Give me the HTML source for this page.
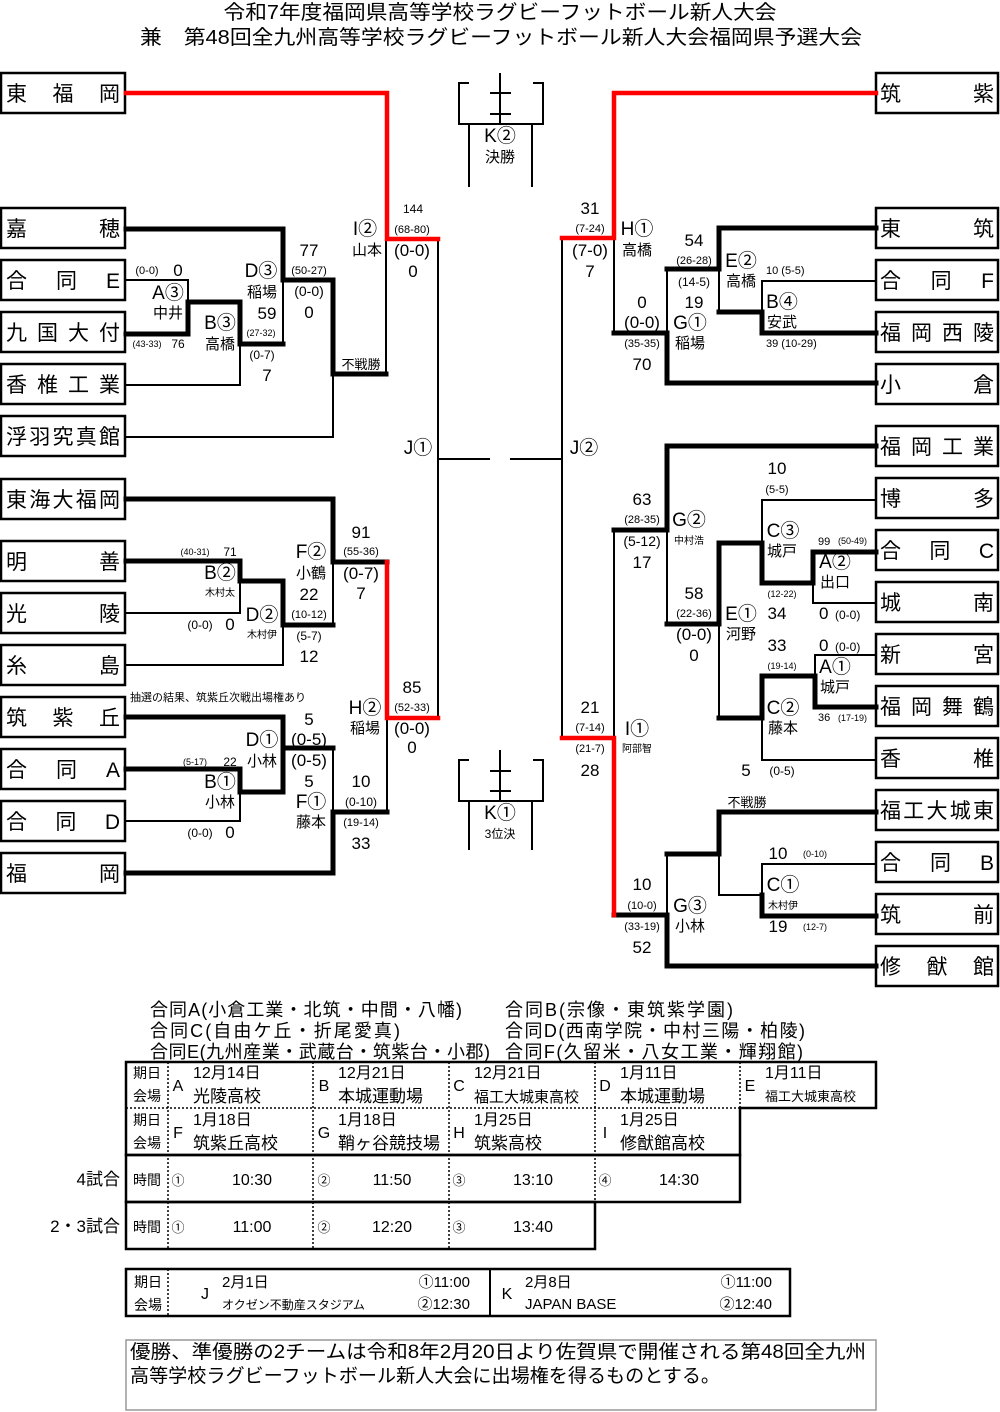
<!DOCTYPE html>
<html><head><meta charset="utf-8"><style>
html,body{margin:0;padding:0;background:#fff}
svg{display:block}
text{font-family:"Liberation Sans","Noto Sans CJK JP",sans-serif;fill:#000}
.c{text-anchor:middle}
.e{text-anchor:end}
.m{font-size:19px}
</style></head><body>
<svg width="1000" height="1412" viewBox="0 0 1000 1412" xmlns="http://www.w3.org/2000/svg">
<!-- Title -->
<text x="500" y="19" class="c" font-size="20" textLength="553" lengthAdjust="spacingAndGlyphs">令和7年度福岡県高等学校ラグビーフットボール新人大会</text>
<text x="501" y="44" class="c" font-size="20" textLength="722" lengthAdjust="spacingAndGlyphs">兼　第48回全九州高等学校ラグビーフットボール新人大会福岡県予選大会</text>

<!-- Team boxes -->
<g fill="#fff" stroke="#000" stroke-width="2.5">
<rect x="1" y="73" width="124" height="40"/>
<rect x="1" y="208" width="124" height="40"/>
<rect x="1" y="260" width="124" height="40"/>
<rect x="1" y="312" width="124" height="40"/>
<rect x="1" y="364" width="124" height="40"/>
<rect x="1" y="416" width="124" height="40"/>
<rect x="1" y="479" width="124" height="40"/>
<rect x="1" y="541" width="124" height="40"/>
<rect x="1" y="593" width="124" height="40"/>
<rect x="1" y="645" width="124" height="40"/>
<rect x="1" y="697" width="124" height="40"/>
<rect x="1" y="749" width="124" height="40"/>
<rect x="1" y="801" width="124" height="40"/>
<rect x="1" y="853" width="124" height="40"/>
<rect x="876" y="73" width="122" height="40"/>
<rect x="876" y="208" width="122" height="40"/>
<rect x="876" y="260" width="122" height="40"/>
<rect x="876" y="312" width="122" height="40"/>
<rect x="876" y="364" width="122" height="40"/>
<rect x="876" y="426" width="122" height="40"/>
<rect x="876" y="478" width="122" height="40"/>
<rect x="876" y="530" width="122" height="40"/>
<rect x="876" y="582" width="122" height="40"/>
<rect x="876" y="634" width="122" height="40"/>
<rect x="876" y="686" width="122" height="40"/>
<rect x="876" y="738" width="122" height="40"/>
<rect x="876" y="790" width="122" height="40"/>
<rect x="876" y="842" width="122" height="40"/>
<rect x="876" y="894" width="122" height="40"/>
<rect x="876" y="946" width="122" height="40"/>
</g>
<g font-size="21" lengthAdjust="spacing">
<text x="6" y="101" textLength="114">東福岡</text>
<text x="6" y="236" textLength="114">嘉穂</text>
<text x="6" y="288" textLength="114">合同E</text>
<text x="6" y="340" textLength="114">九国大付</text>
<text x="6" y="392" textLength="114">香椎工業</text>
<text x="6" y="444" textLength="114">浮羽究真館</text>
<text x="6" y="507" textLength="114">東海大福岡</text>
<text x="6" y="569" textLength="114">明善</text>
<text x="6" y="621" textLength="114">光陵</text>
<text x="6" y="673" textLength="114">糸島</text>
<text x="6" y="725" textLength="114">筑紫丘</text>
<text x="6" y="777" textLength="114">合同A</text>
<text x="6" y="829" textLength="114">合同D</text>
<text x="6" y="881" textLength="114">福岡</text>
<text x="880" y="101" textLength="114">筑紫</text>
<text x="880" y="236" textLength="114">東筑</text>
<text x="880" y="288" textLength="114">合同F</text>
<text x="880" y="340" textLength="114">福岡西陵</text>
<text x="880" y="392" textLength="114">小倉</text>
<text x="880" y="454" textLength="114">福岡工業</text>
<text x="880" y="506" textLength="114">博多</text>
<text x="880" y="558" textLength="114">合同C</text>
<text x="880" y="610" textLength="114">城南</text>
<text x="880" y="662" textLength="114">新宮</text>
<text x="880" y="714" textLength="114">福岡舞鶴</text>
<text x="880" y="766" textLength="114">香椎</text>
<text x="880" y="818" textLength="114">福工大城東</text>
<text x="880" y="870" textLength="114">合同B</text>
<text x="880" y="922" textLength="114">筑前</text>
<text x="880" y="974" textLength="114">修猷館</text>
</g>

<!-- Bracket lines -->
<g fill="none" stroke="#000" stroke-width="2">
<path d="M126 280H188V302"/><path d="M126 385H240V344"/><path d="M283 280V344"/>
<path d="M126 437H333V374"/><path d="M386 374V239"/><path d="M438 239V718"/><path d="M438 459H490"/>
<path d="M126 613H240V581"/><path d="M126 665H283V625"/><path d="M333 625V562"/>
<path d="M126 821H240V792"/><path d="M333 748V812"/><path d="M387 812V718"/>
<path d="M562 238V738"/><path d="M510 459H562"/>
<path d="M614 238V333"/><path d="M667 269V333"/><path d="M719 269V312"/><path d="M762 312V281H876"/>
<path d="M614 530V738"/><path d="M667 530V624"/><path d="M762 543V500H876"/><path d="M813 583V603H876"/>
<path d="M719 624V718"/><path d="M815 676V655H876"/><path d="M762 718V760H876"/>
<path d="M667 915V854"/><path d="M719 854V895H762"/><path d="M762 895V864H876"/>
<!-- trophies -->
<path d="M469 83H459V124H543V83H533"/><path d="M500 73V124"/><path d="M490 93H511M490 114H511"/><path d="M469 124V187M532 124V187"/>
<path d="M469 760H459V801H543V760H533"/><path d="M500 750V801"/><path d="M490 771H511M490 791H511"/><path d="M469 801V850M532 801V850"/>
</g>
<g fill="none" stroke="#000" stroke-width="5" stroke-linejoin="miter" stroke-linecap="square">
<path d="M126 229H283V280H333V374H386"/>
<path d="M126 334H188V302H240V344H283"/>
<path d="M126 499H333V562H387"/>
<path d="M126 561H240V581H283V625H333"/>
<path d="M126 717H283V748H333"/>
<path d="M126 769H240V792H283V748"/>
<path d="M126 873H333V812H387"/>
<path d="M614 333H667V383H876"/>
<path d="M876 228H719V269H667"/>
<path d="M719 312H762V333H876"/>
<path d="M876 446H667V530H614"/>
<path d="M667 624H719V543H762V583H813V552H876"/>
<path d="M719 718H762V676H815V707H876"/>
<path d="M614 915H667V966H876"/>
<path d="M667 854H719V812H876"/>
<path d="M762 895V916H876"/>
</g>
<g fill="none" stroke="#f00" stroke-width="4.5" stroke-linecap="square">
<path d="M126 93H387V239H438"/>
<path d="M387 562V718H438"/>
<path d="M876 93H614V238H562"/>
<path d="M562 738H614V915"/>
</g>

<!-- Labels -->
<g font-size="17">
<text x="418" y="454" class="c m">J①</text>
<text x="584" y="454" class="c m">J②</text>
<text x="500" y="142" class="c m">K②</text>
<text x="500" y="162" class="c" font-size="15">決勝</text>
<text x="500" y="819" class="c m">K①</text>
<text x="500" y="838" class="c" font-size="12">3位決</text>

<text x="413" y="213" class="c" font-size="12">144</text>
<text x="412" y="233" class="c" font-size="11">(68-80)</text>
<text x="412" y="256" class="c">(0-0)</text>
<text x="413" y="277" class="c">0</text>
<text x="365" y="235" class="c m">I②</text>
<text x="367" y="255" class="c" font-size="15">山本</text>
<text x="309" y="256" class="c">77</text>
<text x="309" y="274" class="c" font-size="11">(50-27)</text>
<text x="309" y="296" class="c" font-size="14">(0-0)</text>
<text x="309" y="318" class="c">0</text>
<text x="261" y="277" class="c m">D③</text>
<text x="262" y="297" class="c" font-size="15">稲場</text>
<text x="267" y="319" class="c">59</text>
<text x="261" y="336" class="c" font-size="9">(27-32)</text>
<text x="262" y="359" class="c" font-size="12">(0-7)</text>
<text x="267" y="381" class="c">7</text>
<text x="147" y="274" class="c" font-size="11">(0-0)</text>
<text x="178" y="276" class="c">0</text>
<text x="168" y="299" class="c m">A③</text>
<text x="168" y="318" class="c" font-size="15">中井</text>
<text x="220" y="329" class="c m">B③</text>
<text x="220" y="349" class="c" font-size="15">高橋</text>
<text x="147" y="347" class="c" font-size="9">(43-33)</text>
<text x="178" y="348" class="c" font-size="12">76</text>
<text x="361" y="369" class="c" font-size="13">不戦勝</text>

<text x="361" y="538" class="c">91</text>
<text x="361" y="555" class="c" font-size="11">(55-36)</text>
<text x="361" y="579" class="c">(0-7)</text>
<text x="361" y="599" class="c">7</text>
<text x="311" y="558" class="c m">F②</text>
<text x="311" y="578" class="c" font-size="15">小鶴</text>
<text x="309" y="600" class="c">22</text>
<text x="309" y="618" class="c" font-size="11">(10-12)</text>
<text x="309" y="640" class="c" font-size="12">(5-7)</text>
<text x="309" y="662" class="c">12</text>
<text x="195" y="555" class="c" font-size="9">(40-31)</text>
<text x="230" y="556" class="c" font-size="12">71</text>
<text x="220" y="579" class="c m">B②</text>
<text x="220" y="596" class="c" font-size="10">木村太</text>
<text x="200" y="629" class="c" font-size="12">(0-0)</text>
<text x="230" y="630" class="c">0</text>
<text x="262" y="621" class="c m">D②</text>
<text x="262" y="638" class="c" font-size="10">木村伊</text>
<text x="130" y="701" font-size="11">抽選の結果、筑紫丘次戦出場権あり</text>
<text x="309" y="725" class="c">5</text>
<text x="309" y="745" class="c">(0-5)</text>
<text x="309" y="766" class="c">(0-5)</text>
<text x="309" y="787" class="c">5</text>
<text x="262" y="746" class="c m">D①</text>
<text x="262" y="766" class="c" font-size="15">小林</text>
<text x="195" y="765" class="c" font-size="9">(5-17)</text>
<text x="230" y="766" class="c" font-size="12">22</text>
<text x="220" y="788" class="c m">B①</text>
<text x="220" y="807" class="c" font-size="15">小林</text>
<text x="200" y="837" class="c" font-size="12">(0-0)</text>
<text x="230" y="838" class="c">0</text>
<text x="361" y="787" class="c">10</text>
<text x="361" y="806" class="c" font-size="12">(0-10)</text>
<text x="361" y="826" class="c" font-size="11">(19-14)</text>
<text x="361" y="849" class="c">33</text>
<text x="311" y="808" class="c m">F①</text>
<text x="311" y="827" class="c" font-size="15">藤本</text>
<text x="412" y="693" class="c">85</text>
<text x="412" y="711" class="c" font-size="11">(52-33)</text>
<text x="365" y="714" class="c m">H②</text>
<text x="365" y="733" class="c" font-size="15">稲場</text>
<text x="412" y="734" class="c">(0-0)</text>
<text x="412" y="753" class="c">0</text>

<text x="590" y="214" class="c">31</text>
<text x="590" y="232" class="c" font-size="11">(7-24)</text>
<text x="590" y="256" class="c">(7-0)</text>
<text x="590" y="277" class="c">7</text>
<text x="637" y="235" class="c m">H①</text>
<text x="637" y="255" class="c" font-size="15">高橋</text>
<text x="694" y="246" class="c">54</text>
<text x="694" y="264" class="c" font-size="11">(26-28)</text>
<text x="694" y="286" class="c" font-size="12">(14-5)</text>
<text x="694" y="308" class="c">19</text>
<text x="741" y="267" class="c m">E②</text>
<text x="741" y="286" class="c" font-size="15">高橋</text>
<text x="766" y="274" font-size="11">10 (5-5)</text>
<text x="642" y="308" class="c">0</text>
<text x="642" y="328" class="c">(0-0)</text>
<text x="642" y="347" class="c" font-size="11">(35-35)</text>
<text x="642" y="370" class="c">70</text>
<text x="690" y="329" class="c m">G①</text>
<text x="690" y="348" class="c" font-size="15">稲場</text>
<text x="782" y="308" class="c m">B④</text>
<text x="782" y="327" class="c" font-size="15">安武</text>
<text x="766" y="347" font-size="11">39 (10-29)</text>

<text x="642" y="505" class="c">63</text>
<text x="642" y="523" class="c" font-size="11">(28-35)</text>
<text x="642" y="546" class="c" font-size="14">(5-12)</text>
<text x="642" y="568" class="c">17</text>
<text x="689" y="526" class="c m">G②</text>
<text x="689" y="544" class="c" font-size="10">中村浩</text>
<text x="777" y="474" class="c">10</text>
<text x="777" y="493" class="c" font-size="11">(5-5)</text>
<text x="783" y="537" class="c m">C③</text>
<text x="782" y="556" class="c" font-size="15">城戸</text>
<text x="818" y="545" font-size="11">99</text>
<text x="838" y="544" font-size="9">(50-49)</text>
<text x="835" y="568" class="c m">A②</text>
<text x="835" y="587" class="c" font-size="15">出口</text>
<text x="782" y="597" class="c" font-size="9">(12-22)</text>
<text x="694" y="599" class="c">58</text>
<text x="694" y="617" class="c" font-size="11">(22-36)</text>
<text x="694" y="640" class="c">(0-0)</text>
<text x="694" y="661" class="c">0</text>
<text x="741" y="620" class="c m">E①</text>
<text x="741" y="639" class="c" font-size="15">河野</text>
<text x="777" y="619" class="c">34</text>
<text x="819" y="619">0</text>
<text x="835" y="619" font-size="12">(0-0)</text>
<text x="777" y="651" class="c">33</text>
<text x="819" y="651">0</text>
<text x="835" y="651" font-size="12">(0-0)</text>
<text x="782" y="669" class="c" font-size="9">(19-14)</text>
<text x="835" y="673" class="c m">A①</text>
<text x="835" y="692" class="c" font-size="15">城戸</text>
<text x="783" y="714" class="c m">C②</text>
<text x="783" y="733" class="c" font-size="15">藤本</text>
<text x="818" y="721" font-size="11">36</text>
<text x="838" y="721" font-size="9">(17-19)</text>
<text x="746" y="776" class="c">5</text>
<text x="782" y="775" class="c" font-size="12">(0-5)</text>
<text x="590" y="713" class="c">21</text>
<text x="590" y="731" class="c" font-size="11">(7-14)</text>
<text x="590" y="752" class="c" font-size="11">(21-7)</text>
<text x="590" y="776" class="c">28</text>
<text x="637" y="735" class="c m">I①</text>
<text x="637" y="752" class="c" font-size="10">阿部智</text>
<text x="747" y="807" class="c" font-size="13">不戦勝</text>
<text x="778" y="859" class="c">10</text>
<text x="815" y="857" class="c" font-size="9">(0-10)</text>
<text x="783" y="891" class="c m">C①</text>
<text x="783" y="909" class="c" font-size="10">木村伊</text>
<text x="778" y="932" class="c">19</text>
<text x="815" y="930" class="c" font-size="9">(12-7)</text>
<text x="642" y="890" class="c">10</text>
<text x="642" y="909" class="c" font-size="11">(10-0)</text>
<text x="642" y="930" class="c" font-size="11">(33-19)</text>
<text x="642" y="953" class="c">52</text>
<text x="690" y="912" class="c m">G③</text>
<text x="690" y="931" class="c" font-size="15">小林</text>
</g>

<!-- Notes -->
<g font-size="18" lengthAdjust="spacingAndGlyphs">
<text x="150" y="1016" textLength="312">合同A(小倉工業・北筑・中間・八幡)</text>
<text x="505" y="1016" textLength="228">合同B(宗像・東筑紫学園)</text>
<text x="150" y="1037" textLength="250">合同C(自由ケ丘・折尾愛真)</text>
<text x="505" y="1037" textLength="300">合同D(西南学院・中村三陽・柏陵)</text>
<text x="150" y="1058" textLength="340">合同E(九州産業・武蔵台・筑紫台・小郡)</text>
<text x="505" y="1058" textLength="298">合同F(久留米・八女工業・輝翔館)</text>
</g>

<!-- Schedule table -->
<g fill="none" stroke="#000">
<path d="M126 1108V1062H876V1108H740V1155H126V1108Z" stroke-width="2.5"/>
<path d="M126 1155H740V1202H126Z" stroke-width="2.5"/>
<path d="M126 1202H595V1249H126Z" stroke-width="2.5"/>
<g stroke-width="1.5" stroke-dasharray="2,2">
<path d="M126 1108H740"/>
<path d="M168 1062V1249M313 1062V1249M449 1062V1249M595 1062V1202M740 1062V1108"/>
</g>
</g>
<g font-size="16">
<text x="147" y="1078" class="c" font-size="14">期日</text><text x="147" y="1101" class="c" font-size="14">会場</text>
<text x="147" y="1125" class="c" font-size="14">期日</text><text x="147" y="1148" class="c" font-size="14">会場</text>
<text x="178" y="1091" class="c">A</text><text x="193" y="1078">12月14日</text><text x="193" y="1102" font-size="17">光陵高校</text>
<text x="324" y="1091" class="c">B</text><text x="338" y="1078">12月21日</text><text x="338" y="1102" font-size="17">本城運動場</text>
<text x="459" y="1091" class="c">C</text><text x="474" y="1078">12月21日</text><text x="474" y="1102" font-size="15">福工大城東高校</text>
<text x="605" y="1091" class="c">D</text><text x="620" y="1078">1月11日</text><text x="620" y="1102" font-size="17">本城運動場</text>
<text x="750" y="1091" class="c">E</text><text x="765" y="1078">1月11日</text><text x="765" y="1101" font-size="13">福工大城東高校</text>
<text x="178" y="1138" class="c">F</text><text x="193" y="1125">1月18日</text><text x="193" y="1149" font-size="17">筑紫丘高校</text>
<text x="324" y="1138" class="c">G</text><text x="338" y="1125">1月18日</text><text x="338" y="1149" font-size="17">鞘ヶ谷競技場</text>
<text x="459" y="1138" class="c">H</text><text x="474" y="1125">1月25日</text><text x="474" y="1149" font-size="17">筑紫高校</text>
<text x="605" y="1138" class="c">I</text><text x="620" y="1125">1月25日</text><text x="620" y="1149" font-size="17">修猷館高校</text>
<text x="120" y="1185" class="e" font-size="17">4試合</text>
<text x="147" y="1185" class="c" font-size="14">時間</text>
<text x="178" y="1185" class="c" font-size="13">①</text><text x="252" y="1185" class="c">10:30</text>
<text x="324" y="1185" class="c" font-size="13">②</text><text x="392" y="1185" class="c">11:50</text>
<text x="459" y="1185" class="c" font-size="13">③</text><text x="533" y="1185" class="c">13:10</text>
<text x="605" y="1185" class="c" font-size="13">④</text><text x="679" y="1185" class="c">14:30</text>
<text x="120" y="1232" class="e" font-size="17">2・3試合</text>
<text x="147" y="1232" class="c" font-size="14">時間</text>
<text x="178" y="1232" class="c" font-size="13">①</text><text x="252" y="1232" class="c">11:00</text>
<text x="324" y="1232" class="c" font-size="13">②</text><text x="392" y="1232" class="c">12:20</text>
<text x="459" y="1232" class="c" font-size="13">③</text><text x="533" y="1232" class="c">13:40</text>
</g>

<!-- J/K table -->
<g fill="none" stroke="#000">
<rect x="126" y="1269" width="664" height="47" stroke-width="2.5"/>
<path d="M490 1269V1316" stroke-width="2"/>
<path d="M168 1269V1316" stroke-width="1.5" stroke-dasharray="2,2"/>
</g>
<g font-size="15">
<text x="148" y="1287" class="c" font-size="14">期日</text><text x="148" y="1310" class="c" font-size="14">会場</text>
<text x="205" y="1299" class="c" font-size="16">J</text>
<text x="222" y="1287">2月1日</text>
<text x="222" y="1309" font-size="12">オクゼン不動産スタジアム</text>
<text x="470" y="1287" class="e">①11:00</text>
<text x="470" y="1309" class="e">②12:30</text>
<text x="507" y="1299" class="c" font-size="16">K</text>
<text x="525" y="1287">2月8日</text>
<text x="525" y="1309">JAPAN BASE</text>
<text x="772" y="1287" class="e">①11:00</text>
<text x="772" y="1309" class="e">②12:40</text>
</g>

<!-- Note box -->
<rect x="126" y="1340" width="750" height="70" fill="none" stroke="#999" stroke-width="1.5"/>
<text x="130" y="1358" font-size="19" textLength="736" lengthAdjust="spacingAndGlyphs">優勝、準優勝の2チームは令和8年2月20日より佐賀県で開催される第48回全九州</text>
<text x="130" y="1382" font-size="19" textLength="590" lengthAdjust="spacingAndGlyphs">高等学校ラグビーフットボール新人大会に出場権を得るものとする。</text>
</svg>
</body></html>
